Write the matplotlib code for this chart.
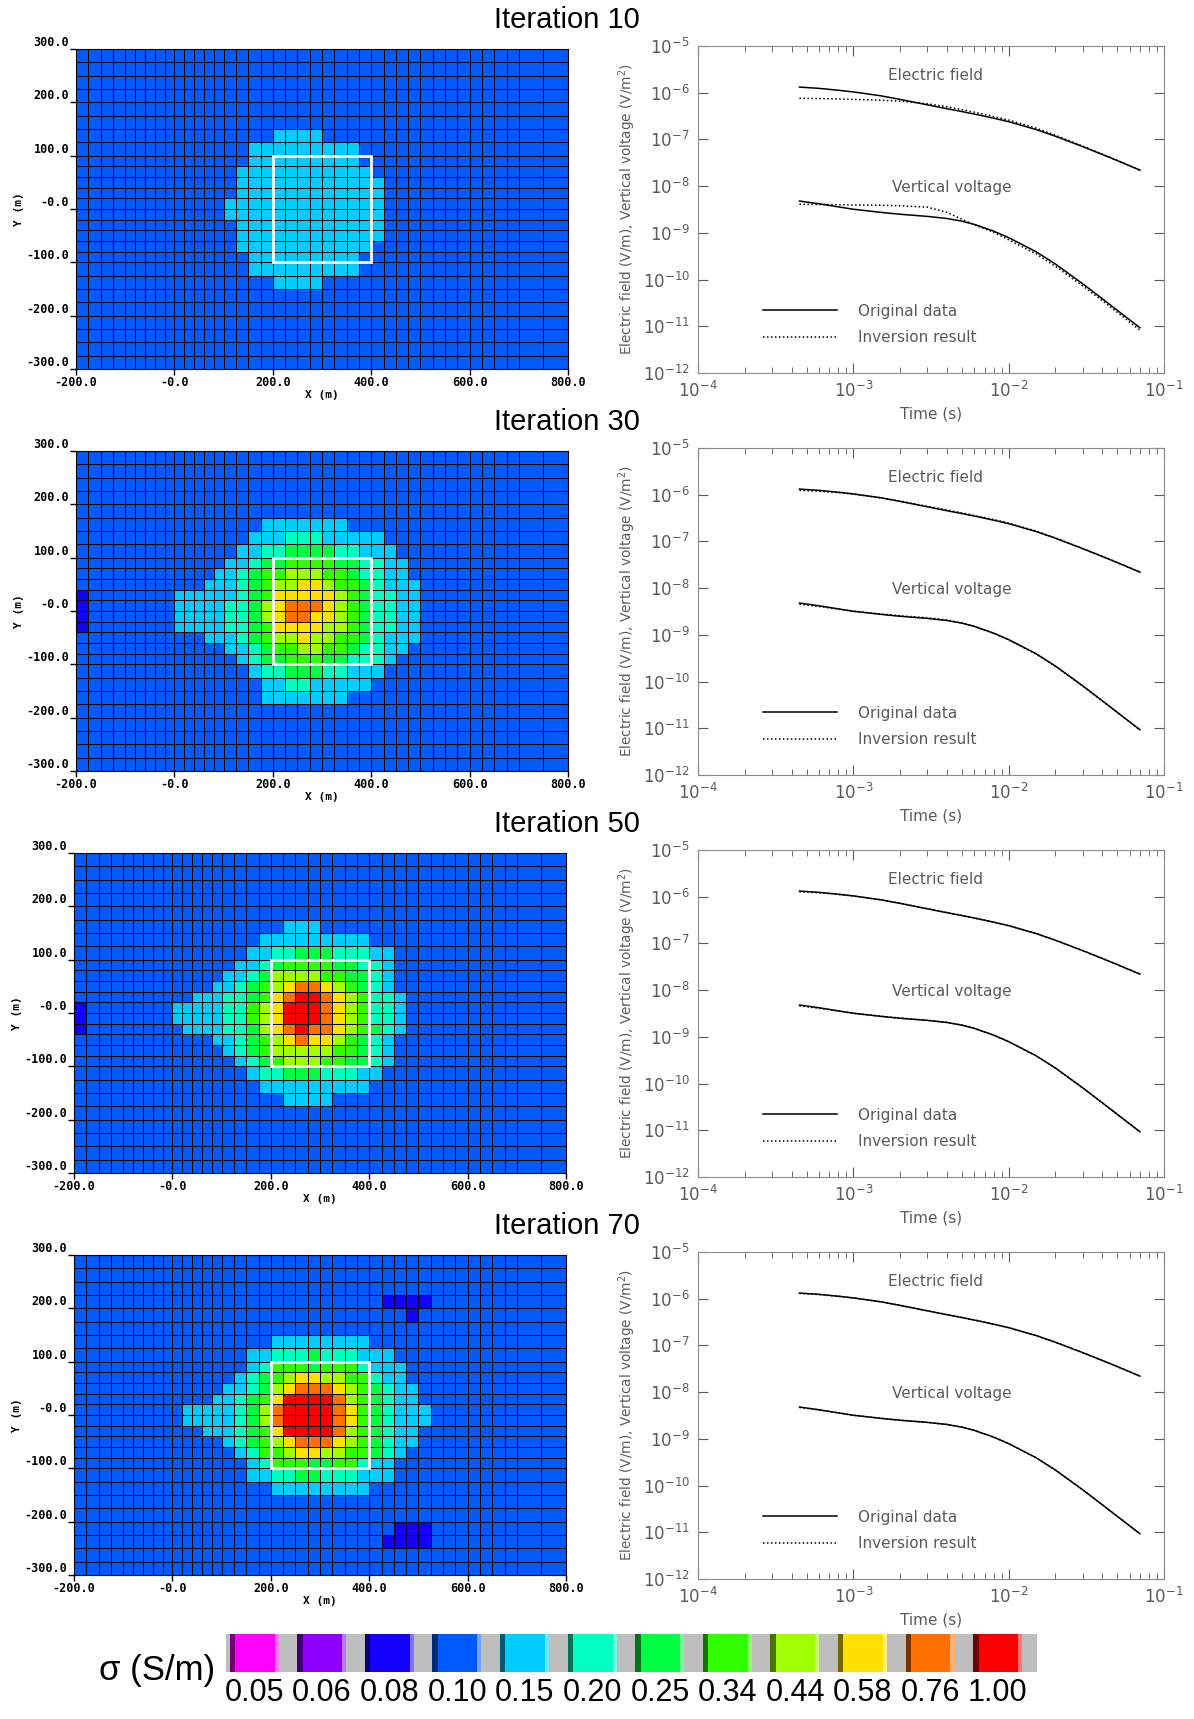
# Conductivity maps after 10/30/50/70 iterations + data fit of the TEM curves

import numpy as np
import matplotlib
matplotlib.use("Agg")
import matplotlib.pyplot as plt
from matplotlib.colors import ListedColormap, to_rgb
from matplotlib.patches import Rectangle
from matplotlib.ticker import LogLocator, NullLocator, NullFormatter

# colour scale (conductivity classes)
SIGMA_LABELS = ["0.05", "0.06", "0.08", "0.10", "0.15", "0.20",
                "0.25", "0.34", "0.44", "0.58", "0.76", "1.00"]
SIGMA_COLORS = ["#ff00ff", "#8c00ff", "#1400ff", "#005aff", "#00ccff", "#00ffc0",
                "#00ff40", "#30ff00", "#a0ff00", "#ffe000", "#ff7000", "#ff0000"]
SIGMA_CODES = "mpb.cagGlyor"   # one character per class, '.' = 0.10 background

# mesh cell edges (m)
X_EDGES = [-200, -175, -150, -125, -100, -80, -60, -40, -20, 0, 20, 40, 60, 80, 100,
           125, 150, 175, 200, 225, 250, 275, 300, 325, 350, 375, 400, 425, 450, 475,
           500, 525, 550, 575, 600, 625, 650, 675, 700, 750, 800]
Y_EDGES = [300, 275, 250, 225, 200, 175, 150, 125, 100, 80, 60, 40, 20, 0, -20, -40,
           -60, -80, -100, -125, -150, -175, -200, -225, -250, -275, -300]

# cell classes, one string per mesh row from top (Y=300) down; short rows are background
MAP_10 = [
    "", "", "", "", "", "",
    "." * 18 + "cccc",
    "." * 16 + "ccccccccc",
    "." * 16 + "ccccccccc",
    "." * 15 + "ccccccccccc",
    "." * 15 + "cccccccccccc",
    "." * 15 + "cccccccccccc",
    "." * 14 + "ccccccccccccc",
    "." * 14 + "ccccccccccccc",
    "." * 15 + "cccccccccccc",
    "." * 15 + "cccccccccccc",
    "." * 15 + "ccccccccccc",
    "." * 16 + "ccccccccc",
    "." * 16 + "ccccccccc",
    "." * 18 + "cccc",
    "", "", "", "", "", "",
]
MAP_30 = [
    "", "", "", "", "",
    "." * 17 + "ccccccc",
    "." * 16 + "cccaaaccccc",
    "." * 15 + "ccaaggggaaccc",
    "." * 14 + "ccaggGGGGggaacc",
    "." * 13 + "ccagGGlllGGgaacc",
    "." * 12 + "cccagGllyylGGgaccc",
    "b" + "." * 8 + "ccccccagGyyyyylGgaacc",
    "b" + "." * 8 + "cccccaaglyoooylGgaacc",
    "b" + "." * 8 + "cccccaaglyooyylGgaacc",
    "b" + "." * 8 + "cccccaagGyyyyllGgaacc",
    "." * 12 + "cccagGllyllGGgaccc",
    "." * 14 + "ccagGGllGGgaacc",
    "." * 15 + "caggGGGggaaac",
    "." * 16 + "caagggaaccc",
    "." * 17 + "ccaaccccc",
    "." * 17 + "ccccccc",
    "", "", "", "", "",
]
MAP_50 = [
    "", "", "", "", "",
    "." * 19 + "ccc",
    "." * 17 + "ccccccccc",
    "." * 16 + "ccaagggaaacc",
    "." * 15 + "ccagGGGGggaac",
    "." * 14 + "ccagllllGGggac",
    "." * 13 + "ccagGlyooylGgac",
    "." * 11 + "cccaagGyorroylGaac",
    "b" + "." * 8 + "cccccaaGlyrrroylGaac",
    "b" + "." * 8 + "cccccaaGlyrrroylGaac",
    "b" + "." * 9 + "ccccaaglyorooylGgac",
    "." * 13 + "ccagGlyoyylGgac",
    "." * 14 + "cagGlllllGGgac",
    "." * 15 + "cagGlllGGggac",
    "." * 16 + "caagggaaacc",
    "." * 17 + "ccccccccc",
    "." * 19 + "cccc",
    "", "", "", "", "",
]
MAP_70 = [
    "", "", "",
    "." * 27 + "bbbb",
    "." * 29 + "b",
    "",
    "." * 18 + "cccccccc",
    "." * 16 + "ccaaagaaaccc",
    "." * 16 + "caGGGgGGGaccc",
    "." * 15 + "cagGlyyllGGacc",
    "." * 14 + "ccaglyoooylGgacc",
    "." * 13 + "ccagGyrrrrolGgacc",
    "." * 10 + "cccccaglorrrroyGgaccc",
    "." * 10 + "cccccaglorrrroyGgaccc",
    "." * 12 + "cccagGyrrrrolGgacc",
    "." * 14 + "cagGlyoooylGgacc",
    "." * 15 + "caGGlyyllGGgac",
    "." * 16 + "caGGGggGGacc",
    "." * 16 + "ccaaggaaaccc",
    "." * 18 + "cccccccc",
    "", "",
    "." * 28 + "bbb",
    "." * 27 + "bbbb",
    "", "",
]

# transient curves (time in s)
TIME = [4.5e-4, 6e-4, 8e-4, 1e-3, 1.5e-3, 2e-3, 3e-3, 4e-3, 5e-3, 6e-3, 8e-3,
        1e-2, 1.5e-2, 2e-2, 3e-2, 4e-2, 5e-2, 7e-2]
E_ORIG = [1.32e-6, 1.24e-6, 1.13e-6, 1.04e-6, 8.6e-7, 7.2e-7, 5.5e-7, 4.55e-7, 3.95e-7,
          3.5e-7, 2.85e-7, 2.4e-7, 1.63e-7, 1.17e-7, 7.0e-8, 4.78e-8, 3.53e-8, 2.2e-8]
V_ORIG = [4.8e-9, 4.2e-9, 3.6e-9, 3.2e-9, 2.75e-9, 2.5e-9, 2.25e-9, 2.03e-9, 1.78e-9,
          1.52e-9, 1.09e-9, 7.9e-10, 3.95e-10, 2.15e-10, 8.1e-11, 3.9e-11, 2.2e-11, 9.3e-12]

E_INV_10 = [7.6e-7, 7.5e-7, 7.35e-7, 7.2e-7, 6.9e-7, 6.6e-7, 5.8e-7, 5.0e-7, 4.35e-7,
            3.85e-7, 3.1e-7, 2.6e-7, 1.75e-7, 1.23e-7, 7.2e-8, 4.85e-8, 3.56e-8, 2.2e-8]
V_INV_10 = [4.1e-9, 4.05e-9, 4.0e-9, 3.95e-9, 3.9e-9, 3.8e-9, 3.55e-9, 2.75e-9, 1.95e-9,
            1.5e-9, 1.03e-9, 7.1e-10, 3.55e-10, 1.92e-10, 7.3e-11, 3.55e-11, 2.0e-11, 8.2e-12]
E_INV_30 = [1.24e-6, 1.19e-6, 1.11e-6, 1.03e-6, 8.6e-7, 7.3e-7, 5.65e-7, 4.72e-7, 4.08e-7,
            3.6e-7, 2.95e-7, 2.47e-7, 1.67e-7, 1.19e-7, 7.05e-8, 4.8e-8, 3.54e-8, 2.2e-8]
V_INV_30 = [4.55e-9, 4.05e-9, 3.55e-9, 3.2e-9, 2.8e-9, 2.56e-9, 2.32e-9, 2.08e-9, 1.8e-9,
            1.52e-9, 1.08e-9, 7.8e-10, 3.9e-10, 2.12e-10, 8.0e-11, 3.85e-11, 2.18e-11, 9.2e-12]
E_INV_50 = [1.28e-6, 1.22e-6, 1.12e-6, 1.04e-6, 8.6e-7, 7.25e-7, 5.55e-7, 4.6e-7, 3.98e-7,
            3.52e-7, 2.87e-7, 2.41e-7, 1.64e-7, 1.17e-7, 7.0e-8, 4.78e-8, 3.53e-8, 2.2e-8]
V_INV_50 = [4.6e-9, 4.1e-9, 3.58e-9, 3.2e-9, 2.77e-9, 2.52e-9, 2.27e-9, 2.05e-9, 1.79e-9,
            1.52e-9, 1.09e-9, 7.85e-10, 3.93e-10, 2.14e-10, 8.05e-11, 3.88e-11, 2.19e-11, 9.25e-12]
E_INV_70 = [1.3e-6, 1.23e-6, 1.13e-6, 1.04e-6, 8.6e-7, 7.2e-7, 5.52e-7, 4.57e-7, 3.96e-7,
            3.51e-7, 2.86e-7, 2.4e-7, 1.63e-7, 1.17e-7, 7.0e-8, 4.78e-8, 3.53e-8, 2.2e-8]
V_INV_70 = [4.7e-9, 4.15e-9, 3.6e-9, 3.2e-9, 2.76e-9, 2.51e-9, 2.26e-9, 2.04e-9, 1.78e-9,
            1.52e-9, 1.09e-9, 7.9e-10, 3.95e-10, 2.15e-10, 8.1e-11, 3.9e-11, 2.2e-11, 9.3e-12]

ITERATIONS = [10, 30, 50, 70]
MAPS = [MAP_10, MAP_30, MAP_50, MAP_70]
E_INV = [E_INV_10, E_INV_30, E_INV_50, E_INV_70]
V_INV = [V_INV_10, V_INV_30, V_INV_50, V_INV_70]

X_TICKS = [-200, 0, 200, 400, 600, 800]
X_TICKLABELS = ["-200.0", "-0.0", "200.0", "400.0", "600.0", "800.0"]
Y_TICKS = [300, 200, 100, 0, -100, -200, -300]
Y_TICKLABELS = ["300.0", "200.0", "100.0", "-0.0", "-100.0", "-200.0", "-300.0"]

CMAP = ListedColormap(SIGMA_COLORS)
GREY = "#5a5a5a"
MONO = dict(family="DejaVu Sans Mono", weight="bold")

FIG_W, FIG_H = 1194, 1719   # pixels
ROW_STEP = 402


def fig_box(left, top, width, height):
    # pixel box (from top-left) -> figure fraction rectangle
    return [left / FIG_W, 1 - (top + height) / FIG_H, width / FIG_W, height / FIG_H]


def draw_map(ax, rows):
    ncol = len(X_EDGES) - 1
    idx = np.array([[SIGMA_CODES.index(ch) for ch in row.ljust(ncol, ".")] for row in rows])
    ax.pcolormesh(X_EDGES, Y_EDGES, idx, cmap=CMAP, vmin=-0.5, vmax=len(SIGMA_COLORS) - 0.5,
                  edgecolors="black", linewidth=0.55)
    # outline of the true body
    ax.add_patch(Rectangle((200, -100), 200, 200, fill=False, edgecolor="white", linewidth=2.0, zorder=5))
    ax.set_xlim(-200, 800)
    ax.set_ylim(-300, 300)
    ax.set_xticks(X_TICKS)
    ax.set_xticklabels(X_TICKLABELS, fontsize=8.5, **MONO)
    ax.set_yticks(Y_TICKS)
    ax.set_yticklabels(Y_TICKLABELS, fontsize=8.5, **MONO)
    for lab in ax.get_yticklabels():
        lab.set_verticalalignment("bottom")
    ax.tick_params(length=4, width=1, pad=1)
    ax.set_xlabel("X (m)", fontsize=8, labelpad=1, **MONO)
    ax.set_ylabel("Y (m)", fontsize=8, labelpad=2, **MONO)


def draw_curves(ax, e_inv, v_inv):
    dots = (0, (1, 1.6))
    ax.loglog(TIME, E_ORIG, color="black", lw=1.1, label="Original data")
    ax.loglog(TIME, e_inv, color="black", lw=1.1, ls=dots, label="Inversion result")
    ax.loglog(TIME, V_ORIG, color="black", lw=1.1)
    ax.loglog(TIME, v_inv, color="black", lw=1.1, ls=dots)
    ax.set_xlim(1e-4, 1e-1)
    ax.set_ylim(1e-12, 1e-5)
    ax.yaxis.set_major_locator(LogLocator(base=10, numticks=10))
    ax.yaxis.set_minor_locator(NullLocator())
    ax.xaxis.set_minor_locator(LogLocator(base=10, subs=np.arange(2, 10), numticks=10))
    ax.xaxis.set_minor_formatter(NullFormatter())
    ax.tick_params(which="both", direction="in", top=True, right=True, colors=GREY, labelsize=12)
    ax.tick_params(which="major", length=7, pad=6)
    ax.tick_params(which="minor", length=4)
    for s in ax.spines.values():
        s.set_color("#8a8a8a")
    ax.set_xlabel("Time (s)", fontsize=11, color=GREY, labelpad=4)
    ax.set_ylabel("Electric field (V/m), Vertical voltage (V/m$^2$)", fontsize=9.8, color=GREY, labelpad=3)
    ax.text(0.51, 0.91, "Electric field", transform=ax.transAxes, ha="center", va="center",
            fontsize=11, color=GREY)
    ax.text(0.545, 0.567, "Vertical voltage", transform=ax.transAxes, ha="center", va="center",
            fontsize=11, color=GREY)
    leg = ax.legend(loc="lower left", bbox_to_anchor=(0.14, 0.085), frameon=False, fontsize=11,
                    handlelength=4.8, handletextpad=1.4, labelspacing=0.75, borderpad=0, borderaxespad=0)
    for t in leg.get_texts():
        t.set_color(GREY)


def draw_colorbar(ax):
    n = len(SIGMA_COLORS)
    pos = np.arange(n)
    dark = [tuple(0.45 * c for c in to_rgb(col)) for col in SIGMA_COLORS]
    light = [tuple(0.55 * c + 0.45 for c in to_rgb(col)) for col in SIGMA_COLORS]
    ax.set_facecolor("#bebebe")
    ax.bar(pos + 0.055, 1, width=0.08, align="edge", color=dark)
    ax.bar(pos + 0.135, 1, width=0.585, align="edge", color=SIGMA_COLORS)
    ax.bar(pos + 0.72, 1, width=0.06, align="edge", color=light)
    ax.set_xlim(0, n)
    ax.set_ylim(0, 1)
    ax.set_yticks([])
    ax.set_xticks(pos + 0.42)
    ax.set_xticklabels(SIGMA_LABELS, family="Liberation Sans", fontsize=22)
    ax.tick_params(length=0, pad=4)
    for s in ax.spines.values():
        s.set_visible(False)


if __name__ == "__main__":
    fig = plt.figure(figsize=(FIG_W / 100, FIG_H / 100), dpi=100)

    for i, it in enumerate(ITERATIONS):
        top = ROW_STEP * i
        fig.text(567 / FIG_W, 1 - (20 + top) / FIG_H, "Iteration %d" % it, ha="center", va="center",
                 fontsize=21, family="Liberation Sans")
        ax_map = fig.add_axes(fig_box(76 if i < 2 else 74, 49 + top, 492, 320))
        draw_map(ax_map, MAPS[i])
        ax_crv = fig.add_axes(fig_box(698, 46 + top, 466, 327))
        draw_curves(ax_crv, E_INV[i], V_INV[i])

    ax_cb = fig.add_axes(fig_box(226, 1634, 811, 38))
    draw_colorbar(ax_cb)
    fig.text(157 / FIG_W, 1 - 1670 / FIG_H, "σ (S/m)", ha="center", va="center", fontsize=25,
             family=["Liberation Sans", "DejaVu Sans"])

    fig.savefig("out.png", dpi=100)
